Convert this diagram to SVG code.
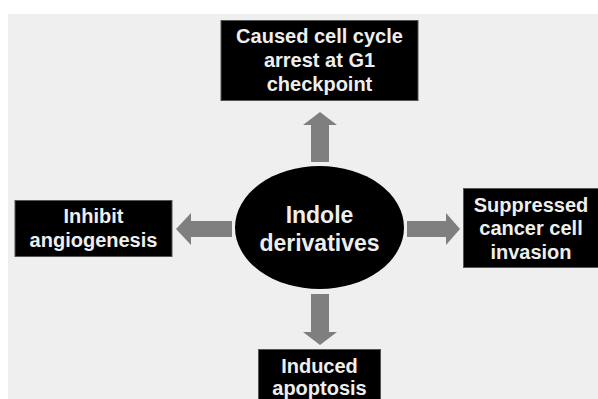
<svg xmlns="http://www.w3.org/2000/svg" width="598" height="399" viewBox="0 0 598 399">
<style>
.box{fill:#000;stroke:#555;stroke-width:1}
.t{font-family:"Liberation Sans",Arial,sans-serif;font-weight:bold;font-size:20px;fill:#eeeeee;text-anchor:middle}
.big{font-size:23px}
.arr{fill:#7f7f7f}
</style>
<rect x="0" y="0" width="598" height="399" fill="#ffffff"/>
<rect x="8" y="14" width="590" height="385" fill="#efefef"/>
<g id="connectors">
<polygon class="arr" points="311,162 311,125 303,125 320,112 337,125 329,125 329,162"/>
<polygon class="arr" points="311,294 329,294 329,332 337,332 320,345 303,332 311,332"/>
<polygon class="arr" points="232,221 191,221 191,213 176,229 191,245 191,237 232,237"/>
<polygon class="arr" points="407,221 446,221 446,213 460,229 446,245 446,237 407,237"/>
</g>
<g id="center">
<ellipse cx="319.5" cy="227.5" rx="84.5" ry="61.5" fill="#000"/>
<text class="t big" x="319.5" y="223">Indole</text>
<text class="t big" x="319.5" y="250.5">derivatives</text>
</g>
<g id="top">
<rect class="box" x="221" y="20.5" width="197" height="80"/>
<text class="t" x="319.5" y="43">Caused cell cycle</text>
<text class="t" x="319.5" y="67">arrest at G1</text>
<text class="t" x="319.5" y="91">checkpoint</text>
</g>
<g id="left">
<rect class="box" x="15" y="200.5" width="157" height="56"/>
<text class="t" x="93.5" y="223">Inhibit</text>
<text class="t" x="93.5" y="246.5">angiogenesis</text>
</g>
<g id="right">
<rect class="box" x="463.5" y="188.5" width="140" height="79"/>
<text class="t" x="531" y="211.5">Suppressed</text>
<text class="t" x="531" y="235">cancer cell</text>
<text class="t" x="531" y="259">invasion</text>
</g>
<g id="bottom">
<rect class="box" x="258.5" y="349.5" width="122" height="60"/>
<text class="t" x="319.5" y="373">Induced</text>
<text class="t" x="319.5" y="395">apoptosis</text>
</g>
</svg>
